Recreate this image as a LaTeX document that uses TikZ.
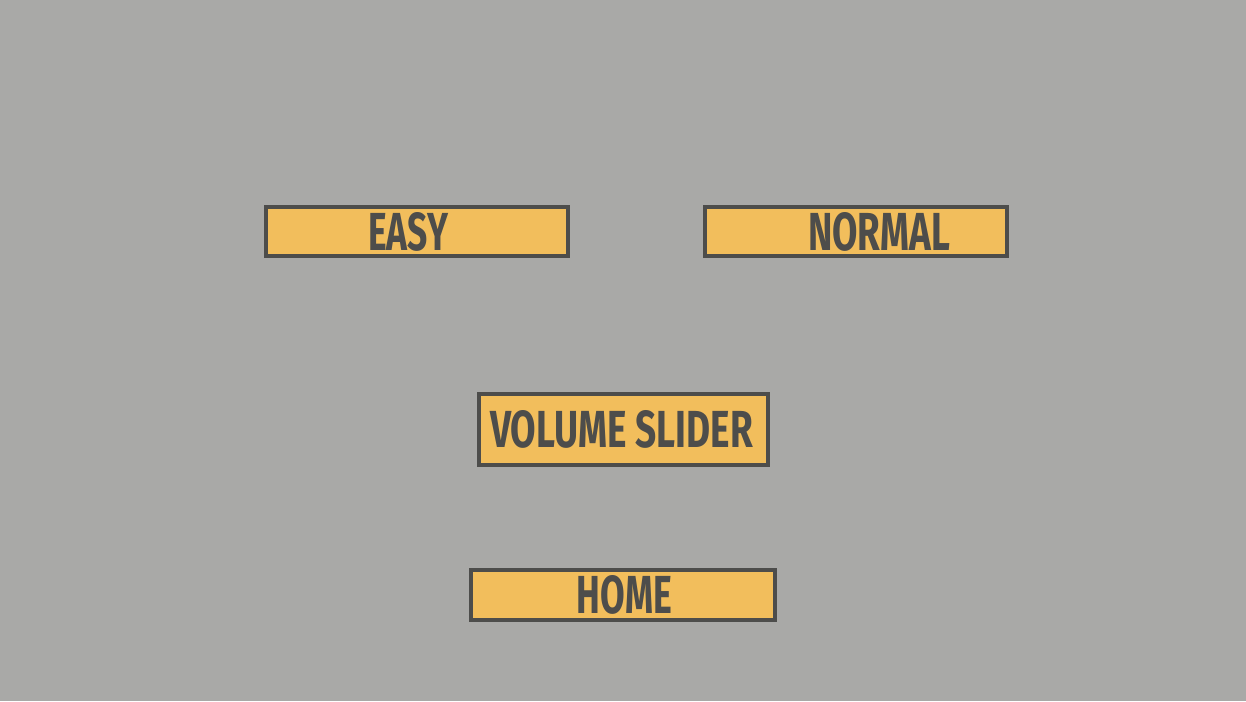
\documentclass[tikz,border=0pt]{standalone}
\usepackage{fontspec}
\setmainfont{Fira Sans}
\usepackage{graphicx}
\definecolor{bgc}{HTML}{A9A9A7}
\definecolor{boxfill}{HTML}{F2BE5C}
\definecolor{ink}{HTML}{4D4D4B}
\tikzset{
  btn/.style={draw=ink, fill=boxfill, line width=3.6pt, rectangle, inner sep=0pt, outer sep=0pt, anchor=north west},
  lbl/.style={text=ink, inner sep=0pt, outer sep=0pt, anchor=center, font=\bfseries},
}
\newcommand{\fitlbl}[3]{\resizebox{#1pt}{#2pt}{#3}}
\begin{document}
\begin{tikzpicture}[x=1pt,y=-1pt]
\fill[bgc] (0,0) rectangle (1246,701);
\useasboundingbox (0,0) rectangle (1246,701);
% boxes (outer edge minus half the line)
\node[btn, minimum width=302pt, minimum height=49pt] (easy) at (266,207) {};
\node[btn, minimum width=302pt, minimum height=49pt] (normal) at (705,207) {};
\node[btn, minimum width=289pt, minimum height=71pt] (volume) at (479,394) {};
\draw[ink, line width=2pt] (volume.south west) -- (volume.south east);
\node[btn, minimum width=304pt, minimum height=50pt] (home) at (471,570) {};
% labels
\node[lbl] (easyt) at (408,231.5) {\fitlbl{80}{38}{EASY}};
\node[lbl] (normalt) at (879,231.5) {\fitlbl{142}{38}{NORMAL}};
\node[lbl] (volumet) at (621.5,429) {\fitlbl{263}{37}{VOLUME SLIDER}};
\node[lbl] (homet) at (624.5,594.5) {\fitlbl{95}{38}{HOME}};
\end{tikzpicture}
\end{document}
